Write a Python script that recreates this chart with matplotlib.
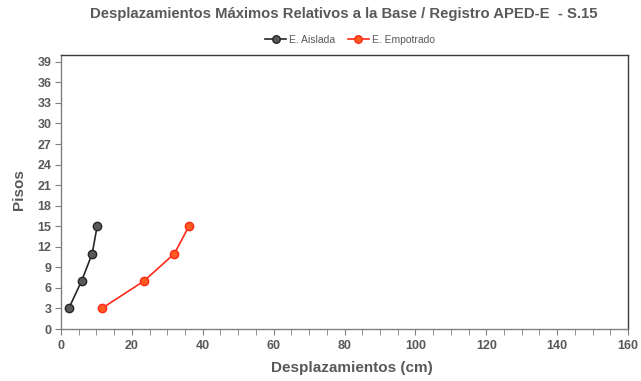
import matplotlib.pyplot as plt
from matplotlib.ticker import MultipleLocator

pisos = [3, 7, 11, 15]
desp_aislada = [2.2, 5.8, 8.8, 10.2]
desp_empotrado = [11.5, 23.4, 32.0, 36.1]

gray = '#595959'
plt.rcParams['font.family'] = ['Liberation Sans', 'DejaVu Sans']

fig = plt.figure(figsize=(6.41, 3.81), dpi=100)
ax = fig.add_axes([61 / 641, 1 - 329 / 381, 567 / 641, 274 / 381])

ax.plot(desp_aislada, pisos, color='#262626', lw=1.2, marker='o', markersize=6,
        markerfacecolor='#595959', markeredgecolor='#262626', markeredgewidth=1,
        label='E. Aislada')
ax.plot(desp_empotrado, pisos, color='#FF2A1A', lw=1.2, marker='o', markersize=6,
        markerfacecolor='#FF5A1F', markeredgecolor='#FF2A1A', markeredgewidth=1,
        label='E. Empotrado')

ax.set_xlim(0, 160)
ax.set_ylim(0, 40)
ax.xaxis.set_major_locator(MultipleLocator(20))
ax.xaxis.set_minor_locator(MultipleLocator(5))
ax.yaxis.set_major_locator(MultipleLocator(3))

for s in ax.spines.values():
    s.set_color('#3a3a3a')
    s.set_linewidth(1.0)
ax.spines['left'].set_color('#808080')
ax.spines['bottom'].set_color('#808080')

ax.tick_params(axis='both', which='both', direction='out', color='#808080',
               labelcolor=gray, labelsize=9)
ax.tick_params(axis='x', which='major', length=4, pad=4)
ax.tick_params(axis='x', which='minor', length=4)
ax.tick_params(axis='y', length=4, pad=3)
for lbl in ax.get_xticklabels() + ax.get_yticklabels():
    lbl.set_fontweight('bold')

# axis titles placed in figure coordinates
fig.text(352 / 641, 1 - 368 / 381, 'Desplazamientos (cm)', ha='center', va='center',
         fontsize=11, fontweight='bold', color=gray)
fig.text(19 / 641, 1 - 190 / 381, 'Pisos', ha='center', va='center', rotation=90,
         fontsize=11, fontweight='bold', color=gray)

fig.text(344 / 641, 1 - 14 / 381,
         'Desplazamientos Máximos Relativos a la Base / Registro APED-E  - S.15',
         ha='center', va='center', fontsize=10.7, fontweight='bold', color=gray)

leg = fig.legend(loc='center', bbox_to_anchor=(350 / 641, 1 - 40 / 381), ncol=2,
                 frameon=False, fontsize=7.5, handlelength=2.0, columnspacing=1.2,
                 handletextpad=0.3, markerscale=0.9)
for t in leg.get_texts():
    t.set_color(gray)

fig.savefig('out.png', dpi=100)
